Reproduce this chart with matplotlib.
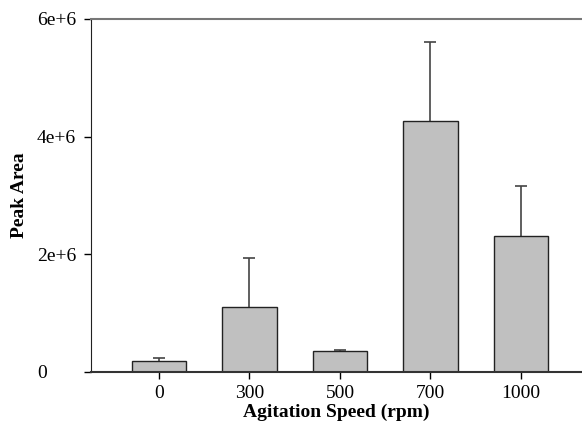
import numpy as np
import matplotlib
matplotlib.use('Agg')
import matplotlib.pyplot as plt

# Data
speeds = ['0', '300', '500', '700', '1000']
peak_area = [0.19e6, 1.10e6, 0.357e6, 4.27e6, 2.31e6]
peak_err = [0.04e6, 0.84e6, 0.01e6, 1.34e6, 0.85e6]
y_ticks = [0, 2e6, 4e6, 6e6]
y_tick_labels = ['0', '2e+6', '4e+6', '6e+6']

plt.rcParams['font.family'] = 'Liberation Serif'
dpi = 100
fig = plt.figure(figsize=(5.82, 4.25), dpi=dpi)
ax = fig.add_axes([91 / 582, 53 / 425, 491 / 582, 353 / 425])

x = np.arange(len(speeds))
ax.bar(x, peak_area, width=0.6, color='#c0c0c0', edgecolor='#222222', linewidth=1.0, zorder=2)
eb = ax.errorbar(x, peak_area, yerr=[np.zeros(len(peak_err)), peak_err], fmt='none',
                 ecolor='#444444', elinewidth=1.2, capsize=4.5, capthick=1.2, zorder=1)
# only the upper caps are shown
eb[1][0].set_visible(False)

ax.set_xlim(-0.751, 4.674)
ax.set_ylim(0, 6e6)
ax.set_xticks(x)
ax.set_xticklabels(speeds, fontsize=14)
ax.set_yticks(y_ticks)
ax.set_yticklabels(y_tick_labels, fontsize=14)

# tick labels on the y axis are left-aligned in the reference
ax.tick_params(axis='y', direction='out', length=5, width=1, pad=(91 - 39 - 5) * 72 / dpi)
for lbl in ax.get_yticklabels():
    lbl.set_horizontalalignment('left')
ax.tick_params(axis='x', direction='out', length=5, width=1, pad=4)

ax.spines['right'].set_visible(False)
ax.spines['top'].set_color('#777777')
ax.spines['top'].set_linewidth(1.5)
ax.spines['left'].set_color('#222222')
ax.spines['bottom'].set_color('#333333')
ax.spines['bottom'].set_linewidth(1.5)

ax.set_xlabel('Agitation Speed (rpm)', fontsize=14, fontweight='bold')
ax.set_ylabel('Peak Area', fontsize=14, fontweight='bold')
ax.xaxis.set_label_coords(0.5, (372 - 404) / 353)
ax.yaxis.set_label_coords((28 - 91) / 491, 0.5)

fig.savefig('out.png', dpi=dpi)
